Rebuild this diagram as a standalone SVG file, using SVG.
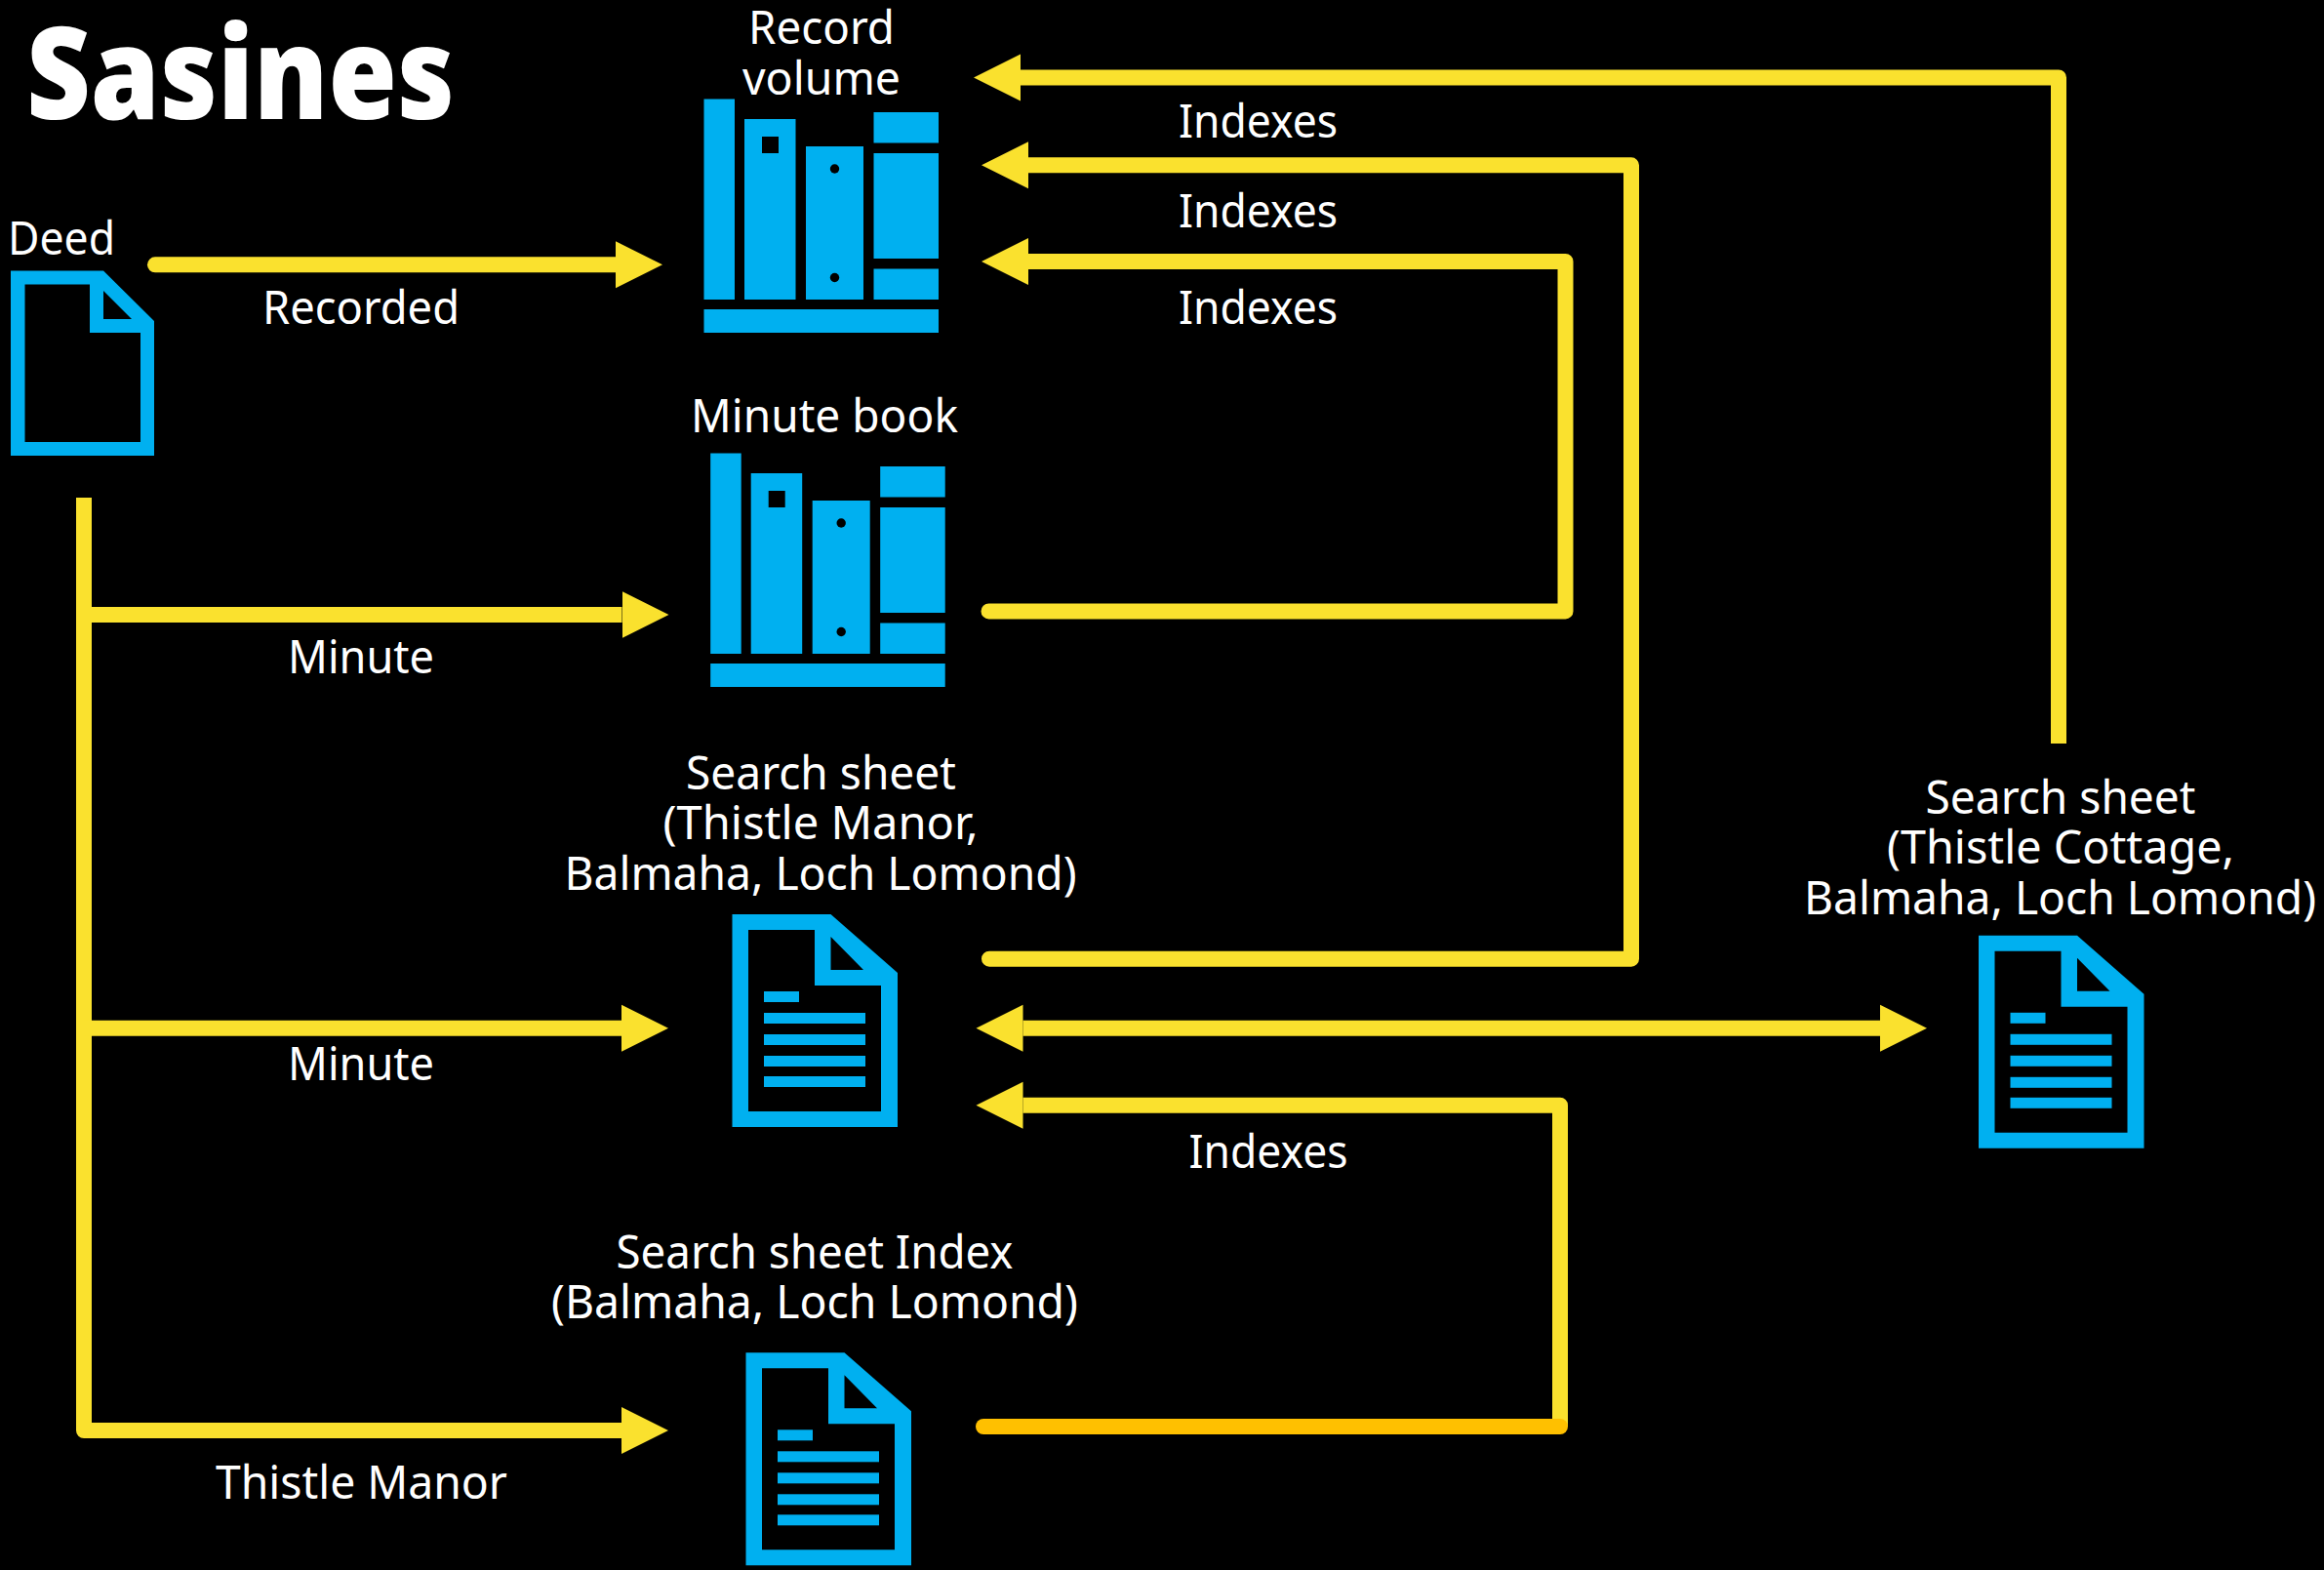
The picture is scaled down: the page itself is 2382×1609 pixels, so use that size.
<svg xmlns="http://www.w3.org/2000/svg" width="2382" height="1609" viewBox="0 0 2382 1609">
<style>
text{font-family:"Noto Sans","Open Sans","DejaVu Sans",sans-serif;fill:#fff;font-size:47px}
.title{font-weight:900;font-size:132px}
.b{fill:#00B0F0}
.c{fill:none;stroke:#FAE12E;stroke-width:16;stroke-linejoin:round;stroke-linecap:butt}
.r{stroke-linecap:round}
.o{fill:none;stroke:#FFC000;stroke-width:16;stroke-linecap:round}
</style>
<defs>
<marker id="h" markerUnits="userSpaceOnUse" markerWidth="50" markerHeight="50" refX="0" refY="25" orient="auto-start-reverse" viewBox="0 0 50 50"><path d="M0 1L48 25L0 49Z" fill="#FAE12E"/></marker>
<g id="books" class="b">
<rect x="721.5" y="101.5" width="31.5" height="205.5"/>
<path fill-rule="evenodd" d="M763 122H815.5V307H763ZM781 140V157H798V140Z"/>
<rect x="826" y="150" width="59" height="157"/>
<rect x="895.5" y="115" width="66.5" height="31.5"/>
<rect x="895.5" y="157" width="66.5" height="108"/>
<rect x="895.5" y="275.5" width="66.5" height="31.5"/>
<rect x="721.5" y="317" width="240.5" height="24"/>
<circle cx="855.5" cy="173" r="4.7" fill="#000"/>
<circle cx="855.5" cy="284.5" r="4.7" fill="#000"/>
</g>
<g id="sheet" class="b">
<path fill-rule="evenodd" d="M750.5 937H851.5L920 997V1155H750.5ZM767 953V1139H903V1010H835V953ZM851.5 960V994H885Z"/>
<rect x="783" y="1016" width="36" height="11"/>
<rect x="783" y="1038" width="104" height="11"/>
<rect x="783" y="1060" width="104" height="11"/>
<rect x="783" y="1082" width="104" height="11"/>
<rect x="783" y="1103" width="104" height="11"/>
</g>
</defs>
<rect id="background" width="2382" height="1609" fill="#000"/>
<text id="title" class="title" x="27" y="122" textLength="439" lengthAdjust="spacingAndGlyphs">Sasines</text>

<g id="connectors">
<path class="c r" d="M159 271.3H631" marker-end="url(#h)"/>
<path class="c" d="M86 510V1466H637" marker-end="url(#h)"/>
<path class="c" d="M86 630H637.5" marker-end="url(#h)"/>
<path class="c" d="M86 1053.7H637" marker-end="url(#h)"/>
<path class="c" d="M2110 762V79.5H1046" marker-end="url(#h)"/>
<path class="c r" d="M1014 982.7H1672V169.3H1054" marker-end="url(#h)"/>
<path class="c r" d="M1013.5 626.4H1604.5V268H1054" marker-end="url(#h)"/>
<path class="c" d="M1048.5 1053.7H1927" marker-start="url(#h)" marker-end="url(#h)"/>
<path class="c" d="M1599 1462V1132.7H1048.5" marker-end="url(#h)"/>
<path class="o" d="M1008 1462H1599"/>
<text x="269" y="331.6" textLength="202" lengthAdjust="spacingAndGlyphs">Recorded</text>
<text x="295" y="690" textLength="150" lengthAdjust="spacingAndGlyphs">Minute</text>
<text x="295" y="1107" textLength="150" lengthAdjust="spacingAndGlyphs">Minute</text>
<text x="221" y="1536" textLength="299" lengthAdjust="spacingAndGlyphs">Thistle Manor</text>
<text x="1208" y="140.6" textLength="163" lengthAdjust="spacingAndGlyphs">Indexes</text>
<text x="1208" y="232.8" textLength="163" lengthAdjust="spacingAndGlyphs">Indexes</text>
<text x="1208" y="331.6" textLength="163" lengthAdjust="spacingAndGlyphs">Indexes</text>
<text x="1218.5" y="1196.7" textLength="163" lengthAdjust="spacingAndGlyphs">Indexes</text>
</g>

<g id="deed">
<text x="8" y="261" textLength="110" lengthAdjust="spacingAndGlyphs">Deed</text>
<path class="b" fill-rule="evenodd" d="M11 277.5H106L158 329V467H11ZM25.5 291.5V453H144V341H92V291.5ZM106 298V327H135Z"/>
</g>
<g id="record-volume">
<text x="767" y="45" textLength="150" lengthAdjust="spacingAndGlyphs">Record</text>
<text x="761" y="96.5" textLength="162" lengthAdjust="spacingAndGlyphs">volume</text>
<use href="#books"/>
</g>
<g id="minute-book">
<text x="708" y="443" textLength="274" lengthAdjust="spacingAndGlyphs">Minute book</text>
<use href="#books" transform="translate(6.7 363)"/>
</g>
<g id="search-sheet-manor">
<text x="703" y="808.7" textLength="277" lengthAdjust="spacingAndGlyphs">Search sheet</text>
<text x="679.5" y="860.3" textLength="323" lengthAdjust="spacingAndGlyphs">(Thistle Manor,</text>
<text x="578.5" y="912" textLength="525" lengthAdjust="spacingAndGlyphs">Balmaha, Loch Lomond)</text>
<use href="#sheet"/>
</g>
<g id="search-sheet-cottage">
<text x="1973.5" y="833.7" textLength="277" lengthAdjust="spacingAndGlyphs">Search sheet</text>
<text x="1934" y="885.3" textLength="356" lengthAdjust="spacingAndGlyphs">(Thistle Cottage,</text>
<text x="1849" y="937" textLength="525" lengthAdjust="spacingAndGlyphs">Balmaha, Loch Lomond)</text>
<use href="#sheet" transform="translate(1277.5 21.8)"/>
</g>
<g id="search-sheet-index">
<text x="631.5" y="1300" textLength="407" lengthAdjust="spacingAndGlyphs">Search sheet Index</text>
<text x="565" y="1351" textLength="540" lengthAdjust="spacingAndGlyphs">(Balmaha, Loch Lomond)</text>
<use href="#sheet" transform="translate(14 449.3)"/>
</g>
</svg>
